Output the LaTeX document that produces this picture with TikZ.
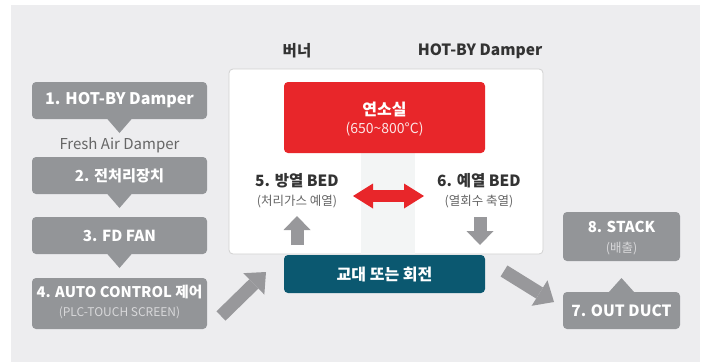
\documentclass[tikz,border=0pt]{standalone}
\usepackage{fontspec}
\setmainfont{Noto Sans CJK KR}
\usetikzlibrary{arrows.meta,calc}
\definecolor{bgc}{HTML}{EDEDEF}
\definecolor{boxg}{HTML}{939598}
\definecolor{arrg}{HTML}{98989B}
\definecolor{redc}{HTML}{E8262A}
\definecolor{teal}{HTML}{0B5870}
\definecolor{strip}{HTML}{F3F5F5}
\definecolor{darkt}{HTML}{333333}
\definecolor{subt}{HTML}{666666}
\definecolor{lightt}{HTML}{D8D8DA}
\tikzset{
  gbox/.style={fill=boxg, rounded corners=4pt, minimum width=175pt, text=white, font=\bfseries\fontsize{15.2}{17}\selectfont, align=center, inner sep=0pt},
  rbox/.style={rounded corners=4pt, inner sep=0pt, align=center, text=white},
  fat/.style={draw=arrg, line width=13pt, -{Triangle[width=30pt,length=17pt,line width=0pt]}},
  fatv/.style={draw=arrg, line width=13pt, -{Triangle[width=27pt,length=14pt,line width=0pt]}},
  ptr/.style={fill=boxg},
  hdr/.style={text=darkt, font=\bfseries\fontsize{15.5}{17}\selectfont, inner sep=0pt},
  bedt/.style={text=darkt, font=\bfseries\fontsize{15.5}{17}\selectfont, inner sep=0pt},
  bedsub/.style={text=subt, font=\fontsize{12.5}{14}\selectfont, inner sep=0pt},
}
\begin{document}
\begin{tikzpicture}[x=1pt,y=-1pt]
\useasboundingbox (0,0) rectangle (708,362);
\fill[white] (0,0) rectangle (708,362);
\fill[bgc] (11,5) rectangle (700,362);
% left column
\node[gbox, minimum height=37pt, font=\bfseries\fontsize{16}{18}\selectfont] (b1) at (119.5,100.5) {1. HOT-BY Damper};
\fill[ptr] (106.5,118) -- (132.5,118) -- (119.5,133) -- cycle;
\node[text=subt, font=\fontsize{15}{17}\selectfont, inner sep=0pt] (fad) at (119.5,145) {Fresh Air Damper};
\node[gbox, minimum height=37pt] (b2) at (119.5,175.5) {2. 전처리장치};
\fill[ptr] (106.5,193) -- (132.5,193) -- (119.5,208) -- cycle;
\node[gbox, minimum height=37pt] (b3) at (119.5,235.5) {3. FD FAN};
\fill[ptr] (106.5,253) -- (132.5,253) -- (119.5,268) -- cycle;
\node[gbox, minimum height=51pt] (b4) at (119.5,303.5) {};
\node[text=white, font=\bfseries\fontsize{14.7}{16}\selectfont, inner sep=0pt] (b4a) at (119.5,292) {4. AUTO CONTROL 제어};
\node[text=lightt, font=\fontsize{12}{14}\selectfont, inner sep=0pt] (b4b) at (119.5,313) {(PLC-TOUCH SCREEN)};
% headers
\node[hdr] (burner) at (297,51) {버너};
\node[hdr] (hotby) at (480,51) {HOT-BY Damper};
% white box
\draw[draw=black!18, fill=white, rounded corners=4pt, line width=0.8pt] (229,69) rectangle (543,254);
\fill[strip] (361,153) rectangle (415,253.6);
\node[rbox, fill=redc, minimum width=201pt, minimum height=71pt] (red) at (384.5,117.5) {};
\node[text=white, font=\bfseries\fontsize{16}{18}\selectfont, inner sep=0pt] (redt) at (384.5,109) {연소실};
\node[text=white!88!redc, font=\fontsize{14}{16}\selectfont, inner sep=0pt] (reds) at (384.5,129) {(650\textasciitilde800°C)};
\node[bedt] (bed5) at (297,181) {5. 방열 BED};
\node[bedsub] (bed5s) at (297,202) {(처리가스 예열)};
\node[bedt] (bed6) at (479,181) {6. 예열 BED};
\node[bedsub] (bed6s) at (479,202) {(열회수 축열)};
\coordinate (dl) at (353,196);
\coordinate (dr) at (424,196);
\draw[draw=redc, line width=12pt, {Triangle[width=25pt,length=20pt,line width=0pt]}-{Triangle[width=25pt,length=20pt,line width=0pt]}] (dl) -- (dr);
\coordinate (u0) at (297,245);
\coordinate (u1) at (297,216);
\draw[fatv] (u0) -- (u1);
\coordinate (d0) at (480,217);
\coordinate (d1) at (480,245);
\draw[fatv] (d0) -- (d1);
% teal
\node[rbox, fill=teal, minimum width=201pt, minimum height=38pt, font=\bfseries\fontsize{16}{18}\selectfont] (rot) at (384.5,274) {교대 또는 회전};
% right column
\node[gbox, minimum width=117pt, minimum height=49pt] (b8) at (621.5,236.5) {};
\node[text=white, font=\bfseries\fontsize{15}{17}\selectfont, inner sep=0pt] (b8a) at (621.5,227) {8. STACK};
\node[text=lightt, font=\fontsize{12.5}{14}\selectfont, inner sep=0pt] (b8b) at (621.5,249) {(배출)};
\node[gbox, minimum width=117pt, minimum height=37pt, font=\bfseries\fontsize{15.5}{17}\selectfont] (b7) at (621.5,310.5) {7. OUT DUCT};
\fill[ptr] (608.5,292.5) -- (634.5,292.5) -- (621.5,278) -- cycle;
% diagonal arrows
\coordinate (a0) at (221,316);
\coordinate (a1) at (266,272);
\draw[fat] (a0) -- (a1);
\coordinate (c0) at (504,271);
\coordinate (c1) at (554,302);
\draw[fat] (c0) -- (c1);
\end{tikzpicture}
\end{document}
